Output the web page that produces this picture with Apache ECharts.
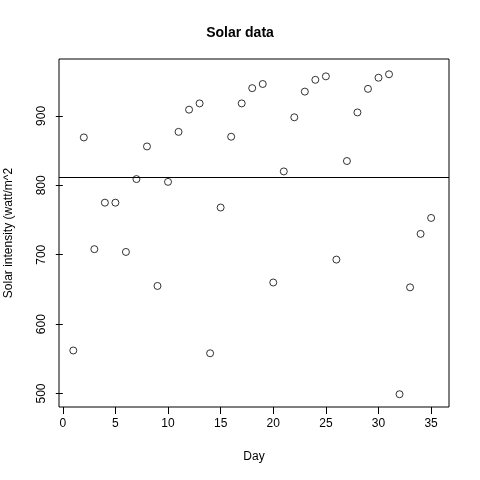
<!DOCTYPE html>
<html>
<head>
<meta charset="utf-8">
<script src="https://cdn.jsdelivr.net/npm/echarts@6/dist/echarts.min.js"></script>
<style>html,body{margin:0;padding:0;background:#fff}#main{width:480px;height:480px}</style>
</head>
<body>
<div id="main"></div>
<script>
var days = [1,2,3,4,5,6,7,8,9,10,11,12,13,14,15,16,17,18,19,20,21,22,23,24,25,26,27,28,29,30,31,32,33,34,35];
var solar = [562,869,708,775,775,704,809,856,655,805,877,909,918,558,768,870,918,940,946,660,820,898,935,952,957,693,835,905,939,955,960,499,653,730,753];
var xTicks = [0,5,10,15,20,25,30,35];
var yTicks = [500,600,700,800,900];
var meanLine = 811;

var chart = echarts.init(document.getElementById('main'));
var font = 'Liberation Sans, Arial, sans-serif';
chart.setOption({
    animation: false,
    title: {
        text: 'Solar data', left: 'center', top: 21,
        textStyle: {fontSize: 14, fontWeight: 'bold', color: '#000', fontFamily: font}
    },
    grid: {left: 59, right: 31, top: 59, bottom: 73, containLabel: false, outerBoundsMode: 'none',
        show: true, borderColor: '#000', borderWidth: 1, backgroundColor: 'transparent'},
    xAxis: {
        type: 'value', min: -0.36, max: 36.7,
        name: 'Day', nameLocation: 'middle', nameGap: 44,
        nameTextStyle: {color: '#000', fontSize: 12, fontFamily: font},
        axisLine: {show: false},
        splitLine: {show: false},
        axisTick: {show: true, customValues: xTicks, length: 7, inside: false, lineStyle: {color: '#000'}},
        axisLabel: {customValues: xTicks, color: '#000', fontSize: 12, margin: 11, fontFamily: font}
    },
    yAxis: {
        type: 'value', min: 480.6, max: 982,
        name: 'Solar intensity (watt/m^2', nameLocation: 'middle', nameGap: 44,
        nameTextStyle: {color: '#000', fontSize: 12, fontFamily: font},
        axisLine: {show: false},
        splitLine: {show: false},
        axisTick: {show: true, customValues: yTicks, length: 7, lineStyle: {color: '#000'}},
        axisLabel: {customValues: yTicks, color: '#000', fontSize: 12, rotate: 90, margin: 11, fontFamily: font}
    },
    series: [{
        type: 'scatter',
        data: days.map(function (d, i) { return [d, solar[i]]; }),
        symbol: 'circle', symbolSize: 7,
        itemStyle: {color: 'transparent', borderColor: '#000', borderWidth: 1},
        markLine: {
            silent: true, symbol: 'none', label: {show: false},
            lineStyle: {color: '#000', type: 'solid', width: 1},
            data: [[{coord: [-0.36, meanLine]}, {coord: [36.7, meanLine]}]]
        }
    }]
});
</script>
</body>
</html>
